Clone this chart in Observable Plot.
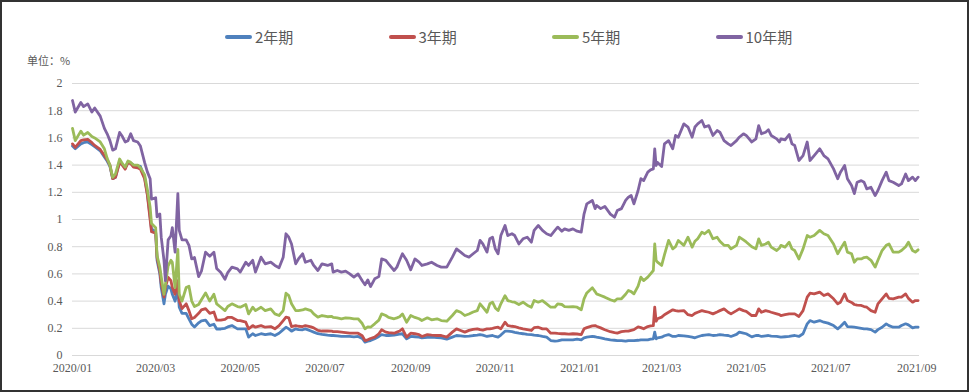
<!DOCTYPE html>
<html><head><meta charset="utf-8">
<script src="https://cdn.jsdelivr.net/npm/d3@7"></script>
<script src="https://cdn.jsdelivr.net/npm/@observablehq/plot@0.6"></script>
<style>
html,body{margin:0;padding:0;background:#fff;}
#wrap{position:relative;width:969px;height:392px;background:#fff;overflow:hidden;}
#frame{position:absolute;left:0;top:0;width:969px;height:392px;box-sizing:border-box;border:2px solid #333;pointer-events:none;}
#legend{position:absolute;top:27px;left:225px;display:flex;font-family:"Noto Sans CJK SC",sans-serif;font-size:15px;color:#595959;line-height:20px;}
.item{width:163.5px;display:flex;align-items:center;}
.sw{width:27px;height:4px;border-radius:2px;margin-right:3px;}
#unit{position:absolute;left:27px;top:52px;font-family:"Noto Sans CJK SC",sans-serif;font-size:11px;color:#595959;}
#chart{position:absolute;left:0;top:70px;}
#chart svg text{font-family:"Liberation Serif","DejaVu Serif",serif !important;font-size:12px;fill:#595959;}
</style></head>
<body>
<div id="wrap">
  <div id="legend"></div>
  <div id="unit"></div>
  <div id="chart"></div>
  <div id="frame"></div>
</div>
<script>
const seriesNames = ["2年期", "3年期", "5年期", "10年期"];
const seriesColors = ["#4F81BD", "#C0504D", "#9BBB59", "#8064A2"];
const xTickLabels = ["2020/01","2020/03","2020/05","2020/07","2020/09","2020/11","2021/01","2021/03","2021/05","2021/07","2021/09"];
const yTicks = [0, 0.2, 0.4, 0.6, 0.8, 1, 1.2, 1.4, 1.6, 1.8, 2];
const unitLabel = "单位：%";

const dates = [
"2020-01-01","2020-01-03","2020-01-07","2020-01-09","2020-01-12","2020-01-15","2020-01-17","2020-01-21","2020-01-24","2020-01-26",
"2020-01-28","2020-01-30","2020-02-01","2020-02-04","2020-02-06","2020-02-08","2020-02-10","2020-02-12","2020-02-14","2020-02-17",
"2020-02-19","2020-02-22","2020-02-24","2020-02-26","2020-02-27","2020-03-01","2020-03-02","2020-03-04","2020-03-05","2020-03-07",
"2020-03-08","2020-03-10","2020-03-12","2020-03-13","2020-03-15","2020-03-17","2020-03-18","2020-03-20","2020-03-23","2020-03-25",
"2020-03-27","2020-03-29","2020-04-01","2020-04-03","2020-04-06","2020-04-09","2020-04-12","2020-04-14","2020-04-17","2020-04-20",
"2020-04-22","2020-04-25","2020-04-29","2020-05-01","2020-05-05","2020-05-07","2020-05-10","2020-05-12","2020-05-16","2020-05-19",
"2020-05-23","2020-05-26","2020-05-29","2020-06-01","2020-06-03","2020-06-05","2020-06-07","2020-06-10","2020-06-12","2020-06-15",
"2020-06-17","2020-06-21","2020-06-23","2020-06-26","2020-06-29","2020-07-03","2020-07-06","2020-07-07","2020-07-10","2020-07-13",
"2020-07-16","2020-07-19","2020-07-22","2020-07-25","2020-07-28","2020-07-30","2020-08-01","2020-08-03","2020-08-06","2020-08-09",
"2020-08-11","2020-08-14","2020-08-16","2020-08-20","2020-08-22","2020-08-24","2020-08-26","2020-08-29","2020-09-01","2020-09-04",
"2020-09-07","2020-09-09","2020-09-13","2020-09-16","2020-09-20","2020-09-23","2020-09-27","2020-10-01","2020-10-04","2020-10-07",
"2020-10-10","2020-10-13","2020-10-16","2020-10-19","2020-10-21","2020-10-23","2020-10-26","2020-10-28","2020-10-30","2020-11-01",
"2020-11-03","2020-11-05","2020-11-08","2020-11-10","2020-11-13","2020-11-15","2020-11-18","2020-11-21","2020-11-24","2020-11-27",
"2020-11-29","2020-12-02","2020-12-05","2020-12-08","2020-12-11","2020-12-14","2020-12-16","2020-12-19","2020-12-21","2020-12-24",
"2020-12-27","2020-12-30","2021-01-02","2021-01-04","2021-01-06","2021-01-10","2021-01-12","2021-01-13","2021-01-16","2021-01-19",
"2021-01-23","2021-01-26","2021-01-28","2021-01-31","2021-02-03","2021-02-05","2021-02-07","2021-02-09","2021-02-12","2021-02-14",
"2021-02-16","2021-02-19","2021-02-21","2021-02-23","2021-02-24","2021-02-25","2021-02-26","2021-03-01","2021-03-03","2021-03-06",
"2021-03-09","2021-03-11","2021-03-13","2021-03-17","2021-03-20","2021-03-23","2021-03-25","2021-03-27","2021-03-30","2021-04-01",
"2021-04-04","2021-04-07","2021-04-10","2021-04-12","2021-04-15","2021-04-18","2021-04-20","2021-04-24","2021-04-26","2021-04-29",
"2021-05-01","2021-05-05","2021-05-08","2021-05-10","2021-05-12","2021-05-15","2021-05-17","2021-05-19","2021-05-23","2021-05-25",
"2021-05-26","2021-05-29","2021-06-01","2021-06-03","2021-06-05","2021-06-08","2021-06-11","2021-06-14","2021-06-16","2021-06-19",
"2021-06-23","2021-06-26","2021-06-29","2021-07-03","2021-07-06","2021-07-08","2021-07-11","2021-07-13","2021-07-16","2021-07-18",
"2021-07-20","2021-07-23","2021-07-25","2021-07-27","2021-07-30","2021-08-02","2021-08-04","2021-08-07","2021-08-10","2021-08-12",
"2021-08-15","2021-08-19","2021-08-21","2021-08-24","2021-08-26","2021-08-29","2021-08-31","2021-09-02"
];

const y10 = [
1.875,1.79,1.86,1.83,1.85,1.79,1.82,1.76,1.67,1.63,
1.58,1.51,1.52,1.64,1.61,1.57,1.58,1.63,1.58,1.57,
1.54,1.42,1.35,1.30,1.15,1.16,1.02,1.04,0.87,0.70,
0.55,0.85,0.88,0.94,0.76,1.19,0.92,0.85,0.85,0.81,
0.71,0.72,0.58,0.62,0.76,0.73,0.76,0.64,0.61,0.56,
0.61,0.65,0.637,0.613,0.686,0.662,0.70,0.613,0.723,0.674,
0.686,0.662,0.645,0.723,0.895,0.87,0.82,0.674,0.71,0.748,
0.686,0.70,0.662,0.625,0.674,0.662,0.674,0.613,0.625,0.613,
0.62,0.60,0.576,0.60,0.55,0.52,0.556,0.507,0.564,0.58,
0.71,0.70,0.674,0.625,0.65,0.70,0.748,0.70,0.63,0.71,
0.686,0.662,0.674,0.686,0.662,0.65,0.65,0.723,0.784,0.76,
0.735,0.723,0.748,0.772,0.846,0.82,0.76,0.858,0.87,0.784,
0.748,0.882,0.956,0.882,0.895,0.882,0.82,0.858,0.87,0.833,
0.92,0.956,0.92,0.895,0.882,0.92,0.944,0.914,0.931,0.92,
0.931,0.914,0.907,1.04,1.115,1.14,1.08,1.103,1.08,1.096,
1.04,1.017,1.066,1.08,1.14,1.164,1.176,1.115,1.213,1.30,
1.286,1.348,1.365,1.372,1.52,1.397,1.42,1.39,1.556,1.58,
1.52,1.618,1.605,1.703,1.68,1.605,1.68,1.703,1.728,1.68,
1.69,1.618,1.654,1.642,1.58,1.556,1.544,1.58,1.605,1.63,
1.618,1.57,1.593,1.69,1.63,1.642,1.66,1.618,1.593,1.57,
1.593,1.586,1.625,1.556,1.544,1.434,1.47,1.57,1.434,1.47,
1.52,1.47,1.446,1.372,1.30,1.348,1.397,1.30,1.25,1.19,
1.274,1.286,1.274,1.225,1.237,1.176,1.213,1.286,1.348,1.286,
1.274,1.25,1.262,1.335,1.286,1.311,1.286,1.311
];

const y5 = [
1.67,1.58,1.65,1.62,1.64,1.61,1.60,1.57,1.52,1.45,
1.40,1.31,1.335,1.445,1.41,1.385,1.43,1.42,1.40,1.40,
1.38,1.33,1.22,1.09,0.97,0.94,0.735,0.65,0.58,0.45,
0.52,0.66,0.70,0.685,0.50,0.78,0.45,0.40,0.50,0.51,
0.40,0.36,0.375,0.41,0.46,0.40,0.45,0.38,0.355,0.33,
0.36,0.38,0.36,0.355,0.375,0.306,0.355,0.33,0.355,0.33,
0.343,0.306,0.294,0.33,0.458,0.44,0.38,0.33,0.33,0.335,
0.343,0.33,0.306,0.282,0.294,0.285,0.287,0.28,0.277,0.27,
0.277,0.275,0.27,0.27,0.235,0.196,0.21,0.208,0.233,0.26,
0.306,0.294,0.28,0.27,0.277,0.285,0.306,0.245,0.294,0.28,
0.27,0.257,0.277,0.262,0.27,0.257,0.252,0.294,0.33,0.318,
0.294,0.305,0.32,0.33,0.38,0.355,0.318,0.38,0.392,0.35,
0.33,0.38,0.44,0.404,0.395,0.392,0.375,0.392,0.37,0.355,
0.404,0.392,0.404,0.38,0.355,0.355,0.38,0.375,0.36,0.357,
0.36,0.355,0.336,0.417,0.46,0.498,0.47,0.453,0.441,0.429,
0.41,0.40,0.417,0.417,0.45,0.478,0.47,0.453,0.51,0.576,
0.551,0.576,0.60,0.625,0.82,0.70,0.686,0.662,0.74,0.846,
0.784,0.80,0.846,0.81,0.87,0.797,0.84,0.858,0.907,0.895,
0.92,0.858,0.87,0.84,0.81,0.81,0.784,0.81,0.87,0.85,
0.835,0.80,0.784,0.858,0.81,0.82,0.833,0.797,0.772,0.79,
0.81,0.797,0.833,0.784,0.772,0.71,0.784,0.882,0.87,0.882,
0.92,0.895,0.882,0.82,0.748,0.784,0.833,0.76,0.748,0.686,
0.71,0.71,0.72,0.723,0.70,0.65,0.70,0.772,0.81,0.82,
0.76,0.76,0.772,0.80,0.833,0.772,0.76,0.777
];

const y3 = [
1.556,1.53,1.58,1.585,1.59,1.565,1.545,1.515,1.47,1.44,
1.40,1.30,1.31,1.42,1.40,1.37,1.42,1.41,1.385,1.38,
1.37,1.30,1.18,1.00,0.91,0.90,0.72,0.62,0.53,0.43,
0.50,0.575,0.55,0.50,0.45,0.55,0.40,0.345,0.38,0.33,
0.27,0.28,0.31,0.335,0.345,0.31,0.32,0.26,0.26,0.265,
0.28,0.28,0.257,0.257,0.245,0.196,0.22,0.208,0.22,0.208,
0.213,0.196,0.22,0.257,0.282,0.277,0.213,0.22,0.215,0.213,
0.22,0.21,0.203,0.185,0.18,0.18,0.179,0.176,0.175,0.172,
0.168,0.164,0.164,0.164,0.145,0.11,0.115,0.125,0.135,0.16,
0.189,0.172,0.168,0.164,0.172,0.18,0.196,0.135,0.164,0.16,
0.154,0.14,0.154,0.15,0.147,0.147,0.135,0.172,0.196,0.184,
0.172,0.185,0.192,0.196,0.19,0.186,0.196,0.196,0.20,0.205,
0.208,0.196,0.245,0.22,0.215,0.213,0.203,0.196,0.19,0.184,
0.205,0.208,0.196,0.196,0.164,0.164,0.162,0.16,0.16,0.157,
0.16,0.158,0.154,0.196,0.205,0.218,0.22,0.215,0.203,0.189,
0.175,0.168,0.165,0.175,0.179,0.179,0.185,0.19,0.21,0.205,
0.196,0.213,0.218,0.22,0.355,0.252,0.27,0.282,0.30,0.318,
0.336,0.33,0.326,0.33,0.30,0.294,0.31,0.318,0.33,0.325,
0.318,0.306,0.32,0.33,0.343,0.318,0.306,0.33,0.343,0.33,
0.325,0.294,0.294,0.343,0.318,0.33,0.325,0.318,0.306,0.30,
0.294,0.30,0.306,0.306,0.306,0.287,0.33,0.429,0.458,0.453,
0.466,0.441,0.453,0.417,0.38,0.392,0.453,0.404,0.39,0.375,
0.37,0.368,0.36,0.355,0.33,0.318,0.38,0.417,0.453,0.42,
0.417,0.429,0.429,0.453,0.42,0.392,0.404,0.404
];

const y2 = [
1.54,1.52,1.556,1.565,1.57,1.55,1.535,1.505,1.46,1.43,
1.39,1.30,1.31,1.43,1.40,1.38,1.42,1.415,1.40,1.395,
1.39,1.31,1.19,1.02,0.93,0.91,0.70,0.60,0.50,0.38,
0.45,0.51,0.49,0.45,0.40,0.48,0.355,0.31,0.31,0.27,
0.23,0.21,0.24,0.255,0.26,0.22,0.23,0.195,0.195,0.20,
0.21,0.22,0.196,0.196,0.196,0.135,0.16,0.147,0.16,0.154,
0.16,0.147,0.164,0.19,0.208,0.196,0.179,0.196,0.19,0.189,
0.196,0.18,0.172,0.16,0.155,0.15,0.147,0.147,0.145,0.14,
0.14,0.14,0.137,0.14,0.125,0.098,0.105,0.11,0.123,0.14,
0.154,0.147,0.147,0.15,0.154,0.157,0.16,0.123,0.14,0.138,
0.135,0.13,0.133,0.135,0.132,0.13,0.12,0.135,0.147,0.145,
0.14,0.142,0.147,0.15,0.154,0.15,0.14,0.145,0.147,0.14,
0.135,0.15,0.179,0.179,0.175,0.17,0.164,0.16,0.155,0.154,
0.15,0.147,0.14,0.135,0.11,0.105,0.108,0.115,0.115,0.115,
0.115,0.12,0.115,0.13,0.135,0.14,0.138,0.135,0.13,0.123,
0.115,0.112,0.11,0.11,0.105,0.11,0.11,0.11,0.112,0.115,
0.115,0.115,0.12,0.123,0.172,0.123,0.13,0.135,0.145,0.154,
0.14,0.14,0.147,0.145,0.14,0.135,0.13,0.138,0.147,0.15,
0.154,0.147,0.15,0.154,0.15,0.147,0.14,0.155,0.172,0.165,
0.16,0.137,0.147,0.147,0.14,0.145,0.147,0.142,0.14,0.137,
0.135,0.138,0.14,0.145,0.147,0.14,0.16,0.233,0.257,0.245,
0.257,0.245,0.238,0.22,0.196,0.213,0.245,0.213,0.21,0.208,
0.205,0.20,0.196,0.196,0.19,0.172,0.19,0.208,0.233,0.22,
0.208,0.208,0.22,0.233,0.225,0.203,0.208,0.208
];

const seriesValues = [y2, y3, y5, y10];
const data = [];
seriesNames.forEach((name, s) => {
  seriesValues[s].forEach((v, i) => data.push({date: new Date(dates[i] + "T00:00:00Z"), value: v, series: name}));
});

const tickDates = xTickLabels.map(s => {
  const [yy, mm] = s.split("/").map(Number);
  return new Date(Date.UTC(yy, mm - 1, 1));
});

// legend (HTML, above the chart)
const legend = document.getElementById("legend");
seriesNames.forEach((name, i) => {
  const item = document.createElement("div");
  item.className = "item";
  const sw = document.createElement("span");
  sw.className = "sw";
  sw.style.background = seriesColors[i];
  const t = document.createElement("span");
  t.textContent = name;
  item.appendChild(sw); item.appendChild(t);
  legend.appendChild(item);
});
document.getElementById("unit").textContent = unitLabel;

const chart = Plot.plot({
  width: 969,
  height: 322,
  marginLeft: 72,
  marginRight: 50,
  marginTop: 13,
  marginBottom: 37,
  style: {fontFamily: "'Liberation Serif', serif", fontSize: "12px", color: "#595959", background: "transparent"},
  x: {type: "utc", domain: [new Date("2020-01-01T00:00:00Z"), new Date("2021-09-03T00:00:00Z")], ticks: tickDates, tickFormat: d3.utcFormat("%Y/%m"), tickSize: 0, tickPadding: 8, label: null},
  y: {domain: [0, 2], ticks: yTicks, tickFormat: d => String(+d.toFixed(1)), tickSize: 0, tickPadding: 10, label: null},
  color: {domain: seriesNames, range: seriesColors},
  marks: [
    Plot.gridY(yTicks, {stroke: "#d9d9d9", strokeOpacity: 1, strokeWidth: 1}),
    Plot.line(data, {x: "date", y: "value", z: "series", stroke: "series", strokeWidth: 2.8, strokeLinejoin: "round", strokeLinecap: "round"})
  ]
});
document.getElementById("chart").appendChild(chart);
</script>
</body></html>
